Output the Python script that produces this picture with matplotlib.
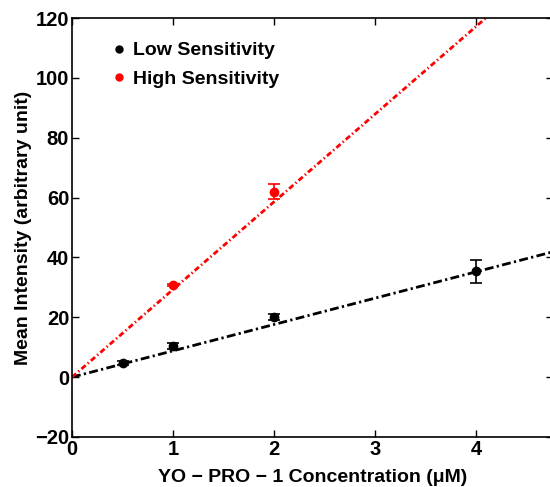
"""
Mean fluorescence intensity vs YO-PRO-1 concentration for two detector sensitivities,
with linear fits through the origin.
"""

import os

os.environ.setdefault("MPLBACKEND", "Agg")

import matplotlib.pyplot as plt
import numpy as np

# Measured points
low_conc = [0.5, 1.0, 2.0, 4.0]
low_mean = [4.7, 10.4, 20.0, 35.3]
low_err = [0.6, 1.0, 1.0, 3.7]

high_conc = [1.0, 2.0]
high_mean = [30.8, 62.0]
high_err = [0.3, 2.5]

# Fitted slopes (intensity per uM)
low_slope = 8.8
high_slope = 29.3

X_MAX = 4.76

plt.rcParams["font.family"] = ["Liberation Sans", "DejaVu Sans"]
plt.rcParams["font.weight"] = "bold"
plt.rcParams["axes.labelweight"] = "bold"

fig = plt.figure(figsize=(5.5, 4.87), dpi=100)
W, H = 550, 487
left, right, top, bottom = 72, 553, 18, 437
ax = fig.add_axes([left / W, 1 - bottom / H, (right - left) / W, (bottom - top) / H])

xfit = np.array([0, X_MAX])
ax.plot(xfit, low_slope * xfit, color="black", lw=2,
        linestyle=(0, (3.2, 1.2, 0.8, 1.2)), zorder=2)
ax.plot(xfit, high_slope * xfit, color="red", lw=2,
        linestyle=(0, (2.0, 1.0, 0.5, 1.0)), zorder=2)

ax.errorbar(low_conc, low_mean, yerr=low_err, fmt="o", color="black",
            ms=6, capsize=4, elinewidth=1.2, capthick=1.2, zorder=3,
            label="Low Sensitivity")
ax.errorbar(high_conc, high_mean, yerr=high_err, fmt="o", color="red",
            ms=6, capsize=4, elinewidth=1.2, capthick=1.2, zorder=3,
            label="High Sensitivity")

ax.set_xlim(0, X_MAX)
ax.set_ylim(-20, 120)
ax.set_xticks([0, 1, 2, 3, 4])
ax.set_yticks(range(-20, 121, 20))
ax.set_yticklabels(["\u221220"] + [str(v) for v in range(0, 121, 20)])

ax.tick_params(direction="in", length=5, width=1, labelsize=14.5,
               top=True, right=True)
ax.tick_params(axis="x", pad=2)
ax.tick_params(axis="y", pad=2)
for sp in ax.spines.values():
    sp.set_linewidth(1.2)

ax.set_xlabel("YO \u2212 PRO \u2212 1 Concentration (\u03bcM)", fontsize=14, labelpad=7)
ax.set_ylabel("Mean Intensity (arbitrary unit)", fontsize=14, labelpad=2)

handles = [
    plt.Line2D([], [], marker="o", ls="none", color="black", ms=5),
    plt.Line2D([], [], marker="o", ls="none", color="red", ms=5),
]
ax.legend(handles, ["Low Sensitivity", "High Sensitivity"], loc="upper left",
          bbox_to_anchor=(0.05, 0.985), frameon=False, fontsize=14,
          handlelength=0.6, handletextpad=0.4, labelspacing=0.55)

fig.savefig("out.png", dpi=100)
